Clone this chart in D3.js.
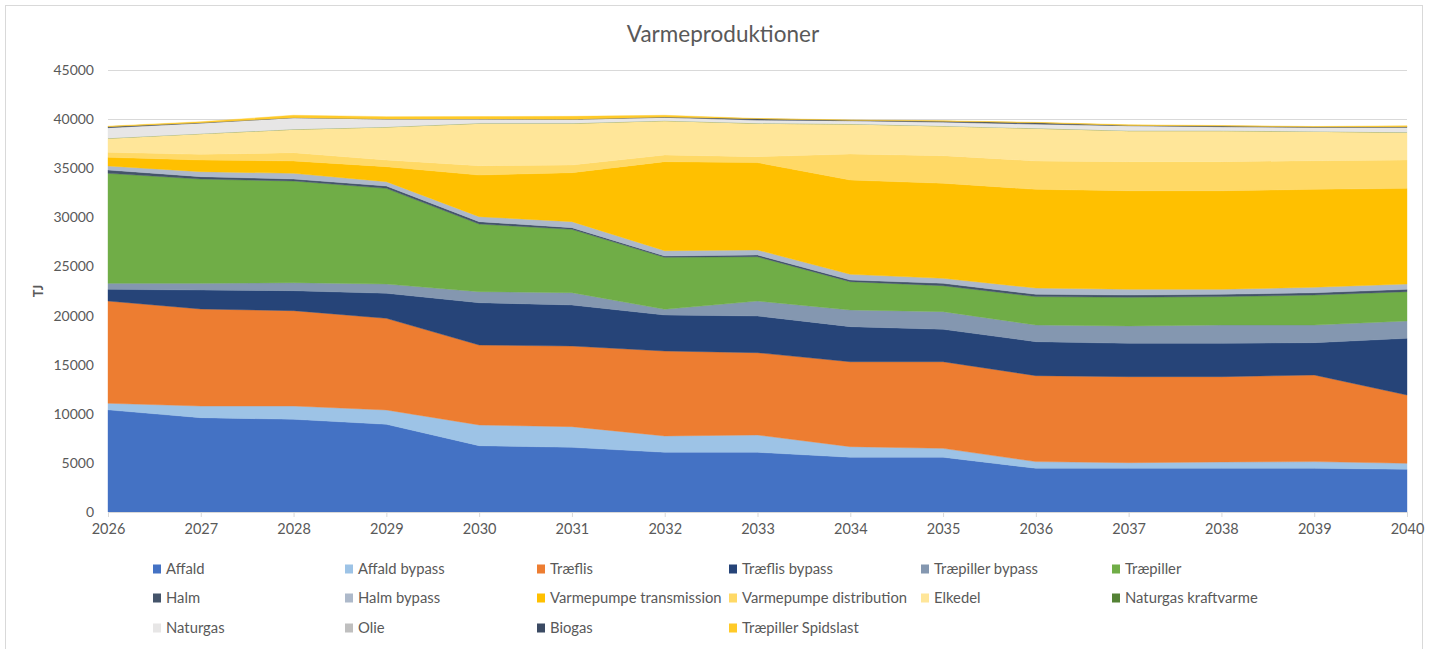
<!DOCTYPE html>
<html>
<head>
<meta charset="utf-8">
<script src="https://cdn.jsdelivr.net/npm/d3@7"></script>
<style>
  html, body { margin: 0; padding: 0; background: #fff; }
  svg { display: block; font-family: Lato, "Liberation Sans", sans-serif; }
</style>
</head>
<body>
<svg id="chart" width="1429" height="649"></svg>
<script>
const years = [2026, 2027, 2028, 2029, 2030, 2031, 2032, 2033, 2034, 2035, 2036, 2037, 2038, 2039, 2040];

const seriesNames = ["Affald", "Affald bypass", "Træflis", "Træflis bypass", "Træpiller bypass", "Træpiller",
  "Halm", "Halm bypass", "Varmepumpe transmission", "Varmepumpe distribution", "Elkedel",
  "Naturgas kraftvarme", "Naturgas", "Olie", "Biogas", "Træpiller Spidslast"];

const affald = [10400, 9600, 9440, 8930, 6750, 6580, 6080, 6080, 5570, 5570, 4450, 4450, 4450, 4450, 4350];
const affaldBypass = [670, 1190, 1350, 1455, 2110, 2110, 1660, 1760, 1080, 910, 680, 570, 640, 680, 610];
const traeflis = [10410, 9880, 9710, 9335, 8140, 8210, 8650, 8380, 8650, 8820, 8750, 8760, 8690, 8820, 6950];
const traeflisBypass = [1190, 1930, 2030, 2550, 4310, 4175, 3670, 3735, 3570, 3300, 3460, 3390, 3390, 3290, 5770];
const traepillerBypass = [610, 680, 820, 940, 1120, 1255, 580, 1525, 1700, 1800, 1700, 1770, 1870, 1800, 1770];
const traepiller = [11200, 10620, 10350, 9740, 6890, 6450, 5290, 4510, 2880, 2640, 2890, 2920, 2890, 3050, 2980];
const halm = [340, 240, 200, 240, 240, 170, 130, 180, 170, 240, 230, 230, 230, 230, 240];
const halmBypass = [410, 510, 580, 440, 510, 610, 540, 510, 580, 510, 640, 580, 510, 560, 540];
const vpTransmission = [880, 1190, 1260, 1530, 4240, 4990, 9070, 8890, 9600, 9680, 10050, 10040, 10040, 9970, 9740];
const vpDistribution = [510, 570, 840, 680, 950, 780, 680, 610, 2650, 2810, 2890, 2960, 2960, 2920, 2890];
const elkedel = [1430, 2110, 2380, 3360, 4310, 4240, 3490, 3390, 3050, 3020, 3320, 3150, 3150, 2980, 2810];
const naturgasKraftvarme = [0, 0, 0, 0, 0, 0, 0, 0, 0, 0, 0, 0, 0, 0, 0];
const naturgas = [1080, 1080, 1190, 810, 440, 410, 340, 340, 340, 400, 440, 510, 410, 410, 510];
const olie = [0, 0, 0, 0, 0, 0, 0, 0, 0, 0, 0, 0, 0, 0, 0];
const biogas = [100, 30, 0, 0, 0, 0, 30, 120, 40, 80, 120, 30, 60, 30, 60];
const spidslast = [50, 100, 240, 240, 250, 300, 180, 30, 40, 60, 50, 60, 60, 60, 100];

const yTicks = [0, 5000, 10000, 15000, 20000, 25000, 30000, 35000, 40000, 45000];

const seriesValues = [affald, affaldBypass, traeflis, traeflisBypass, traepillerBypass, traepiller,
  halm, halmBypass, vpTransmission, vpDistribution, elkedel, naturgasKraftvarme, naturgas, olie, biogas, spidslast];

const colors = ["#4472C4", "#9DC3E6", "#ED7D31", "#264478", "#8497B0", "#70AD47",
  "#44546A", "#ADB9CA", "#FFC000", "#FFD966", "#FFE699", "#548235", "#E7E6E6", "#BFBFBF", "#3B4A63", "#FFCA28"];

const table = years.map((yr, i) => {
  const row = { year: yr };
  seriesNames.forEach((n, k) => { row[n] = seriesValues[k][i]; });
  return row;
});

(function draw() {
  const svg = d3.select("#chart");
  const mLeft = 108, mRight = 1407, mTop = 70, mBottom = 512;

  svg.append("rect").attr("x", 5.5).attr("y", 5.5).attr("width", 1417).attr("height", 660)
    .attr("fill", "#fff").attr("stroke", "#d9d9d9").attr("stroke-width", 1);

  const x = d3.scaleLinear().domain([2026, 2040]).range([mLeft, mRight]);
  const y = d3.scaleLinear().domain([0, 45000]).range([mBottom, mTop]);

  svg.append("g").selectAll("line").data(yTicks.filter(t => t > 0)).join("line")
    .attr("x1", mLeft).attr("x2", mRight)
    .attr("y1", d => Math.round(y(d)) + 0.5).attr("y2", d => Math.round(y(d)) + 0.5)
    .attr("stroke", "#d9d9d9").attr("stroke-width", 1);

  const stacked = d3.stack().keys(seriesNames)(table);
  const area = d3.area()
    .x(d => x(d.data.year))
    .y0(d => y(d[0]))
    .y1(d => y(d[1]))
    .curve(d3.curveLinear);

  svg.append("g").selectAll("path").data(stacked).join("path")
    .attr("d", area)
    .attr("fill", (d, i) => colors[i])
    .attr("stroke", (d, i) => colors[i])
    .attr("stroke-width", 0.4);

  const yAxis = d3.axisLeft(y).tickValues(yTicks).tickSize(0).tickPadding(14).tickFormat(d3.format("d"));
  const gy = svg.append("g").attr("transform", `translate(${mLeft},0)`).call(yAxis);
  gy.select(".domain").remove();
  gy.selectAll("text").attr("fill", "#595959").style("font-size", "14px").style("font-family", "Lato, sans-serif");

  const xAxis = d3.axisBottom(x).tickValues(years).tickSize(5).tickPadding(7).tickFormat(d3.format("d"));
  const gx = svg.append("g").attr("transform", `translate(0,${mBottom})`).call(xAxis);
  gx.select(".domain").attr("stroke", "#d9d9d9");
  gx.selectAll(".tick line").attr("stroke", "#d9d9d9");
  gx.selectAll("text").attr("fill", "#595959").style("font-size", "14.5px").style("font-family", "Lato, sans-serif");

  svg.append("text").attr("x", 723).attr("y", 42).attr("text-anchor", "middle")
    .attr("fill", "#595959").style("font-size", "22.5px").text("Varmeproduktioner");

  svg.append("text").attr("transform", "translate(43,291) rotate(-90)").attr("text-anchor", "middle")
    .attr("fill", "#595959").style("font-size", "13px").style("font-weight", "bold").text("TJ");

  const legendCols = [153, 345, 537, 729, 921, 1112];
  const legendRows = [569, 598, 628];
  const lg = svg.append("g").selectAll("g").data(seriesNames).join("g")
    .attr("transform", (d, i) => `translate(${legendCols[i % 6]},${legendRows[Math.floor(i / 6)]})`);
  lg.append("rect").attr("x", 0).attr("y", -4.5).attr("width", 8).attr("height", 9)
    .attr("fill", (d, i) => colors[i]);
  lg.append("text").attr("x", 13).attr("y", 0).attr("dy", "0.35em")
    .attr("fill", "#595959").style("font-size", "14.8px").text(d => d);
})();
</script>
</body>
</html>
